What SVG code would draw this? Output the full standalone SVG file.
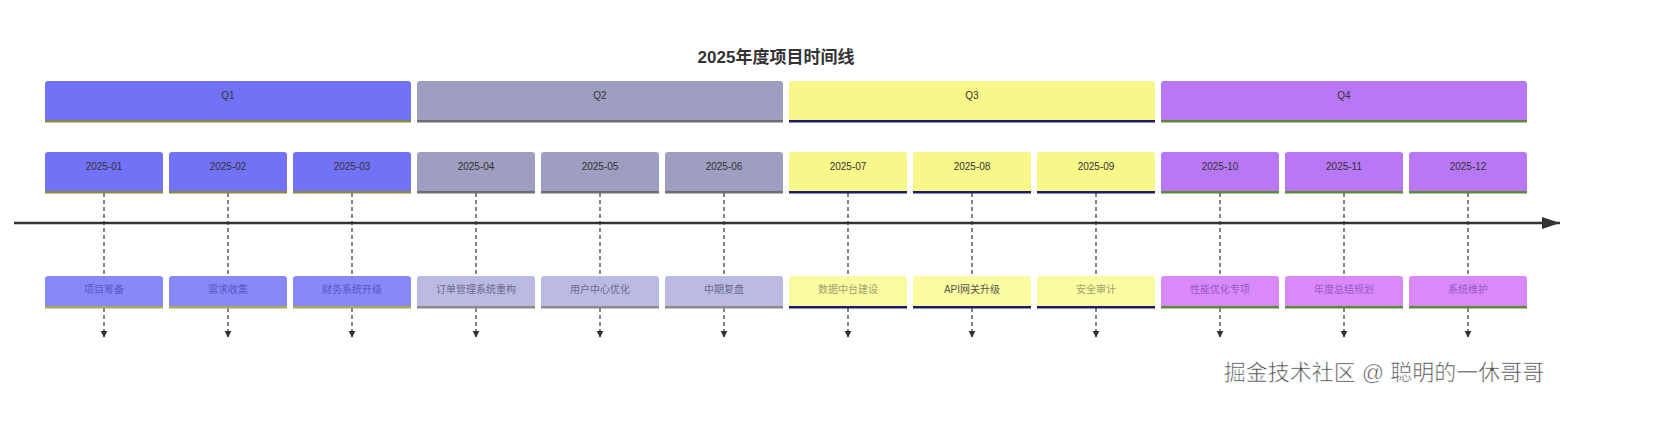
<svg xmlns="http://www.w3.org/2000/svg" width="1669" height="425" viewBox="0 0 1669 425">
<style>
text{font-family:"Liberation Sans","Noto Sans CJK SC",sans-serif;text-anchor:middle;dominant-baseline:central}
.t{font-size:17px;font-weight:bold;fill:#333}
.s{font-size:10px;fill:#333}
.e{font-size:10px}
.c{stroke:#333;stroke-width:1.2;stroke-dasharray:4 3;fill:none}
</style>
<defs>
<marker id="ah" viewBox="0 0 10 10" refX="9" refY="5" markerWidth="6" markerHeight="6" orient="auto"><path d="M0,0L10,5L0,10z" fill="#333"/></marker>
<marker id="big" viewBox="0 0 10 10" refX="9" refY="5" markerWidth="9" markerHeight="6" orient="auto" markerUnits="userSpaceOnUse"><path d="M0,0L10,5L0,10z" fill="#333"/></marker>
</defs>
<rect width="1669" height="425" fill="#fff"/>
<text class="t" x="776" y="57">2025年度项目时间线</text>
<g id="connectors">
<line x1="14" y1="223" x2="1560" y2="223" stroke="#333" stroke-width="2.5"/>
<path d="M1542,217L1560,223L1542,229z" fill="#333"/>
<path class="c" d="M104,193V276M228,193V276M352,193V276M476,193V276M600,193V276M724,193V276M848,193V276M972,193V276M1096,193V276M1220,193V276M1344,193V276M1468,193V276"/>
<g class="c" marker-end="url(#ah)">
<line x1="104" y1="308" x2="104" y2="337"/><line x1="228" y1="308" x2="228" y2="337"/><line x1="352" y1="308" x2="352" y2="337"/><line x1="476" y1="308" x2="476" y2="337"/><line x1="600" y1="308" x2="600" y2="337"/><line x1="724" y1="308" x2="724" y2="337"/><line x1="848" y1="308" x2="848" y2="337"/><line x1="972" y1="308" x2="972" y2="337"/><line x1="1096" y1="308" x2="1096" y2="337"/><line x1="1220" y1="308" x2="1220" y2="337"/><line x1="1344" y1="308" x2="1344" y2="337"/><line x1="1468" y1="308" x2="1468" y2="337"/>
</g>
</g>
<g id="Q1"><rect x="45" y="81" width="366" height="41" rx="3" fill="#7272f6"/><rect x="45" y="120" width="366" height="2.5" fill="#8a8a45"/><text class="s" x="228" y="95">Q1</text></g>
<g id="Q2"><rect x="417" y="81" width="366" height="41" rx="3" fill="#9e9ec0"/><rect x="417" y="120" width="366" height="2.5" fill="#6e6e6e"/><text class="s" x="600" y="95">Q2</text></g>
<g id="Q3"><rect x="789" y="81" width="366" height="41" rx="3" fill="#f8f88a"/><rect x="789" y="120" width="366" height="2.5" fill="#1c1c6a"/><text class="s" x="972" y="95">Q3</text></g>
<g id="Q4"><rect x="1161" y="81" width="366" height="41" rx="3" fill="#b877f5"/><rect x="1161" y="120" width="366" height="2.5" fill="#5a8a3a"/><text class="s" x="1344" y="95">Q4</text></g>
<g id="m01"><rect x="45" y="152" width="118" height="41" rx="3" fill="#7272f6"/><rect x="45" y="191" width="118" height="2.5" fill="#8a8a45"/><text class="s" x="104" y="166">2025-01</text></g>
<g id="m02"><rect x="169" y="152" width="118" height="41" rx="3" fill="#7272f6"/><rect x="169" y="191" width="118" height="2.5" fill="#8a8a45"/><text class="s" x="228" y="166">2025-02</text></g>
<g id="m03"><rect x="293" y="152" width="118" height="41" rx="3" fill="#7272f6"/><rect x="293" y="191" width="118" height="2.5" fill="#8a8a45"/><text class="s" x="352" y="166">2025-03</text></g>
<g id="m04"><rect x="417" y="152" width="118" height="41" rx="3" fill="#9e9ec0"/><rect x="417" y="191" width="118" height="2.5" fill="#6e6e6e"/><text class="s" x="476" y="166">2025-04</text></g>
<g id="m05"><rect x="541" y="152" width="118" height="41" rx="3" fill="#9e9ec0"/><rect x="541" y="191" width="118" height="2.5" fill="#6e6e6e"/><text class="s" x="600" y="166">2025-05</text></g>
<g id="m06"><rect x="665" y="152" width="118" height="41" rx="3" fill="#9e9ec0"/><rect x="665" y="191" width="118" height="2.5" fill="#6e6e6e"/><text class="s" x="724" y="166">2025-06</text></g>
<g id="m07"><rect x="789" y="152" width="118" height="41" rx="3" fill="#f8f88a"/><rect x="789" y="191" width="118" height="2.5" fill="#1c1c6a"/><text class="s" x="848" y="166">2025-07</text></g>
<g id="m08"><rect x="913" y="152" width="118" height="41" rx="3" fill="#f8f88a"/><rect x="913" y="191" width="118" height="2.5" fill="#1c1c6a"/><text class="s" x="972" y="166">2025-08</text></g>
<g id="m09"><rect x="1037" y="152" width="118" height="41" rx="3" fill="#f8f88a"/><rect x="1037" y="191" width="118" height="2.5" fill="#1c1c6a"/><text class="s" x="1096" y="166">2025-09</text></g>
<g id="m10"><rect x="1161" y="152" width="118" height="41" rx="3" fill="#b877f5"/><rect x="1161" y="191" width="118" height="2.5" fill="#5a8a3a"/><text class="s" x="1220" y="166">2025-10</text></g>
<g id="m11"><rect x="1285" y="152" width="118" height="41" rx="3" fill="#b877f5"/><rect x="1285" y="191" width="118" height="2.5" fill="#5a8a3a"/><text class="s" x="1344" y="166">2025-11</text></g>
<g id="m12"><rect x="1409" y="152" width="118" height="41" rx="3" fill="#b877f5"/><rect x="1409" y="191" width="118" height="2.5" fill="#5a8a3a"/><text class="s" x="1468" y="166">2025-12</text></g>
<g id="e01"><rect x="45" y="276" width="118" height="32" rx="3" fill="#8888f8"/><rect x="45" y="306" width="118" height="2.5" fill="#a8a860"/><text class="e" fill="#5858c8" x="104" y="289">项目筹备</text></g>
<g id="e02"><rect x="169" y="276" width="118" height="32" rx="3" fill="#8888f8"/><rect x="169" y="306" width="118" height="2.5" fill="#a8a860"/><text class="e" fill="#5858c8" x="228" y="289">需求收集</text></g>
<g id="e03"><rect x="293" y="276" width="118" height="32" rx="3" fill="#8888f8"/><rect x="293" y="306" width="118" height="2.5" fill="#a8a860"/><text class="e" fill="#5858c8" x="352" y="289">财务系统开级</text></g>
<g id="e04"><rect x="417" y="276" width="118" height="32" rx="3" fill="#babae2"/><rect x="417" y="306" width="118" height="2.5" fill="#8a8a8a"/><text class="e" fill="#6a6a90" x="476" y="289">订单管理系统重构</text></g>
<g id="e05"><rect x="541" y="276" width="118" height="32" rx="3" fill="#babae2"/><rect x="541" y="306" width="118" height="2.5" fill="#8a8a8a"/><text class="e" fill="#6a6a90" x="600" y="289">用户中心优化</text></g>
<g id="e06"><rect x="665" y="276" width="118" height="32" rx="3" fill="#babae2"/><rect x="665" y="306" width="118" height="2.5" fill="#8a8a8a"/><text class="e" fill="#6a6a90" x="724" y="289">中期复盘</text></g>
<g id="e07"><rect x="789" y="276" width="118" height="32" rx="3" fill="#fbfba0"/><rect x="789" y="306" width="118" height="2.5" fill="#1c1c6a"/><text class="e" fill="#a0a070" x="848" y="289">数据中台建设</text></g>
<g id="e08"><rect x="913" y="276" width="118" height="32" rx="3" fill="#fbfba0"/><rect x="913" y="306" width="118" height="2.5" fill="#1c1c6a"/><text class="e" fill="#555" x="972" y="289">API网关升级</text></g>
<g id="e09"><rect x="1037" y="276" width="118" height="32" rx="3" fill="#fbfba0"/><rect x="1037" y="306" width="118" height="2.5" fill="#1c1c6a"/><text class="e" fill="#a0a070" x="1096" y="289">安全审计</text></g>
<g id="e10"><rect x="1161" y="276" width="118" height="32" rx="3" fill="#d98af8"/><rect x="1161" y="306" width="118" height="2.5" fill="#5a8a3a"/><text class="e" fill="#9a58c8" x="1220" y="289">性能优化专项</text></g>
<g id="e11"><rect x="1285" y="276" width="118" height="32" rx="3" fill="#d98af8"/><rect x="1285" y="306" width="118" height="2.5" fill="#5a8a3a"/><text class="e" fill="#9a58c8" x="1344" y="289">年度总结规划</text></g>
<g id="e12"><rect x="1409" y="276" width="118" height="32" rx="3" fill="#d98af8"/><rect x="1409" y="306" width="118" height="2.5" fill="#5a8a3a"/><text class="e" fill="#9a58c8" x="1468" y="289">系统维护</text></g>
<text x="1384" y="372" style="font-size:22px;fill:#444;stroke:#fff;stroke-width:0.6">掘金技术社区 @ 聪明的一休哥哥</text>
</svg>
